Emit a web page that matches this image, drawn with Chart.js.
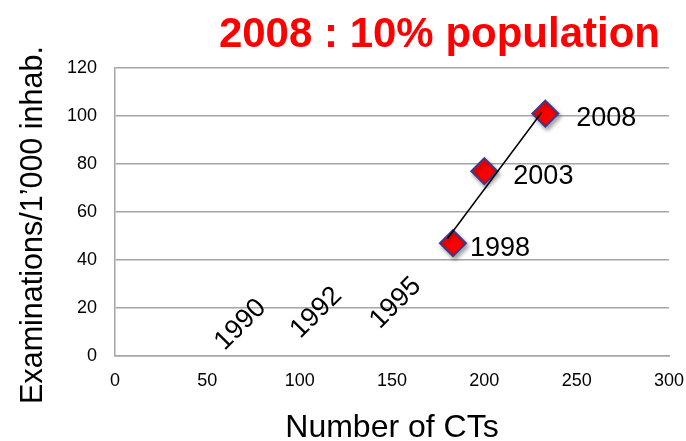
<!DOCTYPE html>
<html>
<head>
<meta charset="utf-8">
<script src="https://cdn.jsdelivr.net/npm/chart.js@4.4.1/dist/chart.umd.min.js"></script>
<style>
  html, body { margin: 0; padding: 0; background: #fff; }
</style>
</head>
<body>
<canvas id="myChart" width="686" height="441"></canvas>
<script>
// Data
const years = ["1998", "2003", "2008"];
const numCTs = [183, 200, 233];          // x: number of CTs
const examsPer1000 = [47, 77, 101];      // y: examinations / 1'000 inhab.

// earlier years, only written as labels on the chart
const earlyYears = ["1990", "1992", "1995"];
const earlyCTs = [68, 109, 152];
const earlyExams = [13, 18, 22];

const trendFrom = 180, trendTo = 231;

const FONT = '"Liberation Sans", Arial, sans-serif';

// Linear trend line (least squares) through the plotted points
const n = numCTs.length;
const mx = numCTs.reduce((a, b) => a + b, 0) / n;
const my = examsPer1000.reduce((a, b) => a + b, 0) / n;
let sxy = 0, sxx = 0;
for (let i = 0; i < n; i++) {
    sxy += (numCTs[i] - mx) * (examsPer1000[i] - my);
    sxx += (numCTs[i] - mx) ** 2;
}
const slope = sxy / sxx;
const trend = [trendFrom, trendTo].map(x => ({ x: x, y: my + slope * (x - mx) }));

// drop shadow under the diamonds only
const shadowPlugin = {
    id: "markerShadow",
    beforeDatasetDraw(chart, args) {
        if (args.index !== 1) return;
        const c = chart.ctx;
        c.save();
        c.shadowColor = "rgba(0,0,0,0.35)";
        c.shadowBlur = 4;
        c.shadowOffsetX = 2;
        c.shadowOffsetY = 3;
    },
    afterDatasetDraw(chart, args) {
        if (args.index !== 1) return;
        chart.ctx.restore();
    }
};

// Title, year labels next to the markers, rotated labels for earlier years, y-axis title
const labelDx = [17, 29, 31];
const labelPlugin = {
    id: "yearLabels",
    afterDatasetsDraw(chart) {
        const { ctx, scales: { x, y }, chartArea } = chart;
        ctx.save();
        ctx.fillStyle = "#ff0000";
        ctx.font = "bold 42px " + FONT;
        ctx.textAlign = "right";
        ctx.textBaseline = "alphabetic";
        ctx.fillText("2008 : 10% population", 660, 47);

        ctx.fillStyle = "#000";
        ctx.font = "27px " + FONT;
        ctx.textAlign = "left";
        ctx.textBaseline = "middle";
        years.forEach((t, i) => {
            ctx.fillText(t, x.getPixelForValue(numCTs[i]) + labelDx[i],
                y.getPixelForValue(examsPer1000[i]) + 5);
        });
        ctx.textAlign = "center";
        earlyYears.forEach((t, i) => {
            ctx.save();
            ctx.translate(x.getPixelForValue(earlyCTs[i]), y.getPixelForValue(earlyExams[i]));
            ctx.rotate(-Math.PI / 4);
            ctx.fillText(t, 0, 0);
            ctx.restore();
        });
        // y axis title
        ctx.font = "30.5px " + FONT;
        ctx.translate(34, chartArea.top + 157);
        ctx.rotate(-Math.PI / 2);
        ctx.fillText("Examinations/1\u2019000 inhab.", 0, 0);
        ctx.restore();
    }
};

const ctx = document.getElementById("myChart").getContext("2d");
const chart = new Chart(ctx, {
    type: "scatter",
    data: {
        datasets: [
            {
                label: "trend",
                data: trend,
                showLine: true,
                borderColor: "#000",
                borderWidth: 1.5,
                pointRadius: 0,
                order: 0
            },
            {
                label: "CTs",
                data: numCTs.map((v, i) => ({ x: v, y: examsPer1000[i] })),
                pointStyle: "rectRot",
                pointRadius: 13,
                pointHoverRadius: 13,
                backgroundColor: "#ff0000",
                borderColor: "#3a3a8c",
                borderWidth: 2,
                order: 1
            }
        ]
    },
    options: {
        responsive: false,
        animation: false,
        layout: { padding: { left: 0, right: 17, top: 68, bottom: 0 } },
        plugins: {
            legend: { display: false },
            tooltip: { enabled: false },
            title: { display: false }
        },
        scales: {
            x: {
                type: "linear",
                min: 0,
                max: 300,
                ticks: { stepSize: 50, padding: 14, color: "#000", font: { family: FONT, size: 18 } },
                grid: { display: false, drawTicks: false },
                border: { display: true, color: "#a6a6a6", width: 1.5 },
                title: {
                    display: true,
                    text: "Number of CTs",
                    color: "#000",
                    font: { family: FONT, size: 32 },
                    padding: { top: 0, bottom: -6 }
                },
                afterFit(scale) {
                    scale.height = 85;
                    scale.paddingLeft = 0;
                    scale.paddingRight = 0;
                }
            },
            y: {
                min: 0,
                max: 120,
                ticks: { stepSize: 20, padding: 18, color: "#000", font: { family: FONT, size: 18 } },
                grid: { color: "#a6a6a6", lineWidth: 1.5, drawTicks: false },
                border: { display: true, color: "#a6a6a6", width: 1.5 },
                afterFit(scale) {
                    scale.width = 115;
                    scale.paddingTop = 0;
                    scale.paddingBottom = 0;
                }
            }
        }
    },
    plugins: [shadowPlugin, labelPlugin]
});
</script>
</body>
</html>
